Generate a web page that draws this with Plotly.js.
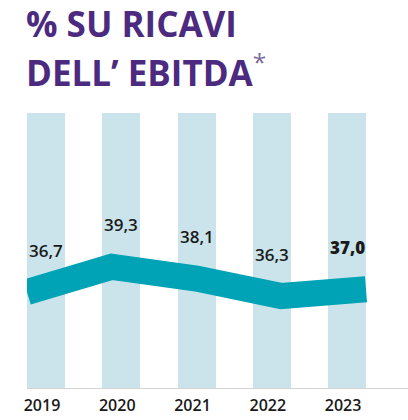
<!DOCTYPE html>
<html><head><meta charset="utf-8">
<script src="https://cdn.plot.ly/plotly-3.0.1.min.js"></script>
<style>html,body{margin:0;padding:0;background:#fff}#chart{width:408px;height:420px}</style>
</head><body><div id="chart"></div>
<script>
const years = ['2019', '2020', '2021', '2022', '2023'];
const ebitdaMargin = [36.7, 39.3, 38.1, 36.3, 37.0];
const backgroundBars = [1, 1, 1, 1, 1];
const highlightYear = '2023';

const fmt = v => v.toFixed(1).replace('.', ',');
const idx = years.map((_, i) => i);

const traces = [
  {
    type: 'bar', x: idx, y: backgroundBars, xaxis: 'x', yaxis: 'y',
    width: 0.505, marker: {color: '#cbe4ec', line: {width: 0}}, hoverinfo: 'skip', showlegend: false
  },
  {
    type: 'scatter', mode: 'lines', x: idx, y: ebitdaMargin, xaxis: 'x2', yaxis: 'y2',
    line: {color: '#00a2b5', width: 26}, hoverinfo: 'skip', showlegend: false
  }
];

const annotations = years.map((yr, i) => ({
  x: idx[i], y: ebitdaMargin[i], xref: 'x', yref: 'y2',
  text: fmt(ebitdaMargin[i]),
  showarrow: false, yshift: 42,
  font: {family: 'Open Sans, sans-serif', size: 17, color: '#1a1a1a', weight: yr === highlightYear ? 800 : 600}
}));

const titleFont = {family: 'Open Sans, sans-serif', size: 35, color: '#4b2a80', weight: 700};
annotations.push({
  xref: 'paper', yref: 'paper', x: -3 / 381, y: 1 + 90 / 275, xanchor: 'left', yanchor: 'middle',
  text: '% SU RICAVI', showarrow: false, font: titleFont
});
annotations.push({
  xref: 'paper', yref: 'paper', x: -3 / 381, y: 1 + 43 / 275, xanchor: 'left', yanchor: 'middle',
  text: 'DELL’ EBITDA<sup><span style="font-weight:normal;color:#7a6a9a">*</span></sup>',
  showarrow: false, font: titleFont
});

const layout = {
  width: 408, height: 420,
  margin: {l: 27, r: 0, t: 113, b: 32},
  paper_bgcolor: '#fff', plot_bgcolor: '#fff',
  bargap: 0,
  xaxis: {
    range: [-0.2525, 4.81], tickvals: idx, ticktext: years,
    showline: true, linecolor: '#d4d4d4', linewidth: 1,
    showgrid: false, zeroline: false, ticks: '',
    ticklabelshift: -4, ticklabelstandoff: 3,
    tickfont: {family: 'Open Sans, sans-serif', size: 16, color: '#1a1a1a', weight: 600},
    fixedrange: true
  },
  yaxis: {range: [0, 1], visible: false, fixedrange: true},
  xaxis2: {overlaying: 'x', anchor: 'y2', range: [0, 4.496], visible: false, fixedrange: true},
  yaxis2: {overlaying: 'y', anchor: 'x2', range: [26.85, 55.11], visible: false, fixedrange: true},
  annotations: annotations,
  showlegend: false
};

Plotly.newPlot('chart', traces, layout, {displayModeBar: false, staticPlot: true});
</script>
</body></html>
